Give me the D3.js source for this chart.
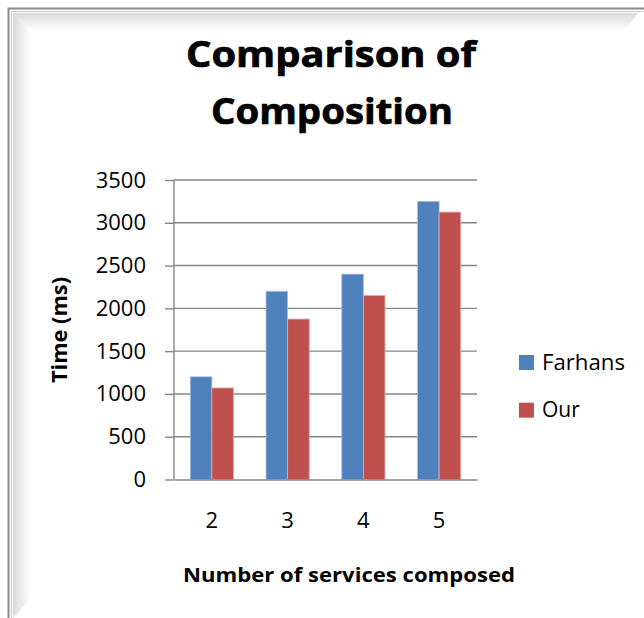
<!DOCTYPE html>
<html><head><meta charset="utf-8">
<script src="https://cdn.jsdelivr.net/npm/d3@7"></script>
<style>body{margin:0;background:#fff}svg{display:block}</style>
</head><body>
<script>
const categories = ["2","3","4","5"];
const seriesNames = ["Farhans","Our"];
const farhans = [1200,2200,2400,3250];
const our = [1070,1875,2150,3125];
const yTicks = [0,500,1000,1500,2000,2500,3000,3500];
const colors = ["#4F81BD","#C0504D"];

const W=644,H=618;
const svg=d3.select("body").append("svg").attr("width",W).attr("height",H);
const defs=svg.append("defs");
const gT=defs.append("linearGradient").attr("id","gT").attr("x1",0).attr("y1",0).attr("x2",0).attr("y2",1);
gT.append("stop").attr("offset","0").attr("stop-color","#d9d9d9");
gT.append("stop").attr("offset","1").attr("stop-color","#ffffff");
const gL=defs.append("linearGradient").attr("id","gL").attr("x1",0).attr("y1",0).attr("x2",1).attr("y2",0);
gL.append("stop").attr("offset","0").attr("stop-color","#d9d9d9");
gL.append("stop").attr("offset","1").attr("stop-color","#ffffff");

// frame
svg.append("rect").attr("x",0).attr("y",0).attr("width",W).attr("height",H).attr("fill","#fff");
svg.append("polygon").attr("points","13,13 638,13 625,31 31,31").attr("fill","url(#gT)");
svg.append("polygon").attr("points","13,13 31,31 31,598 13,618").attr("fill","url(#gL)");
svg.append("path").attr("d","M8.5,618 V8.5 H644").attr("fill","none").attr("stroke","#8a8a8a").attr("stroke-width",2);
svg.append("path").attr("d","M11.5,618 V11.5 H644").attr("fill","none").attr("stroke","#cfcfcf").attr("stroke-width",1);

const font="'Open Sans', 'Liberation Sans', sans-serif";
// title
svg.append("text").attr("x",331).attr("y",67).attr("text-anchor","middle").attr("font-family",font)
 .attr("font-weight","bold").attr("font-size",35).attr("stroke","#000").attr("stroke-width",0.7)
 .attr("textLength",290).attr("lengthAdjust","spacingAndGlyphs").text("Comparison of");
svg.append("text").attr("x",332).attr("y",124).attr("text-anchor","middle").attr("font-family",font)
 .attr("font-weight","bold").attr("font-size",35).attr("stroke","#000").attr("stroke-width",0.7)
 .attr("textLength",242).attr("lengthAdjust","spacingAndGlyphs").text("Composition");

const x0=174,x1=477,yTop=180,yBot=479.5;
const x=d3.scaleBand().domain(categories).range([x0,x1]).paddingInner(0).paddingOuter(0);
const y=d3.scaleLinear().domain([0,3500]).range([yBot,yTop]);
const bw=x.bandwidth()*0.285;

// gridlines
svg.append("g").selectAll("line").data(yTicks.filter(d=>d>0)).join("line")
 .attr("x1",x0).attr("x2",x1).attr("y1",d=>y(d)).attr("y2",d=>y(d))
 .attr("stroke","#868686").attr("stroke-width",1.4);

// bars
const data=categories.map((c,i)=>({c,vals:[farhans[i],our[i]]}));
const gb=svg.append("g");
data.forEach(d=>{
  d.vals.forEach((v,j)=>{
    const cx=x(d.c)+x.bandwidth()/2;
    gb.append("rect").attr("x",cx-bw+j*bw).attr("y",y(v)).attr("width",bw).attr("height",y(0)-y(v))
      .attr("fill",colors[j]).attr("stroke",j===0?"#a7bfdf":"#e0a8a6").attr("stroke-width",0.8);
  });
});

// y axis
const ya=svg.append("g").attr("transform",`translate(${x0},0)`)
 .call(d3.axisLeft(y).tickValues(yTicks).tickSize(9).tickPadding(18).tickFormat(d3.format("d")));
ya.select(".domain").attr("stroke","#868686").attr("stroke-width",1.4).attr("d",`M0,${yTop}V${yBot}`);
ya.selectAll(".tick line").attr("stroke","#868686").attr("stroke-width",1.4);
ya.selectAll(".tick text").attr("font-family",font).attr("font-size",22).attr("fill","#000").attr("dx",-1);

// x axis
const xa=svg.append("g").attr("transform",`translate(0,${yBot})`)
 .call(d3.axisBottom(x).tickSize(0).tickPadding(33));
xa.select(".domain").attr("stroke","#868686").attr("stroke-width",1.4);
xa.selectAll(".tick text").attr("font-family",font).attr("font-size",22).attr("fill","#000");

// axis titles
svg.append("text").attr("transform","translate(67,330) rotate(-90)").attr("text-anchor","middle")
 .attr("font-family",font).attr("font-weight","bold").attr("font-size",21).attr("textLength",106)
 .attr("lengthAdjust","spacingAndGlyphs").text("Time (ms)");
svg.append("text").attr("x",349).attr("y",582).attr("text-anchor","middle")
 .attr("font-family",font).attr("font-weight","bold").attr("font-size",19).attr("textLength",332)
 .attr("lengthAdjust","spacingAndGlyphs").text("Number of services composed");

// legend
const lg=svg.append("g");
seriesNames.forEach((n,i)=>{
  const yy=355+i*47.7;
  const t=lg.append("text").attr("x",542).attr("y",yy+14.5).attr("font-family",font).attr("font-size",21).text(n);
  if(i===0) t.attr("textLength",83).attr("lengthAdjust","spacingAndGlyphs");
  lg.append("rect").attr("x",519).attr("y",yy).attr("width",15).attr("height",15).attr("fill",colors[i]);
});
</script>
</body></html>
